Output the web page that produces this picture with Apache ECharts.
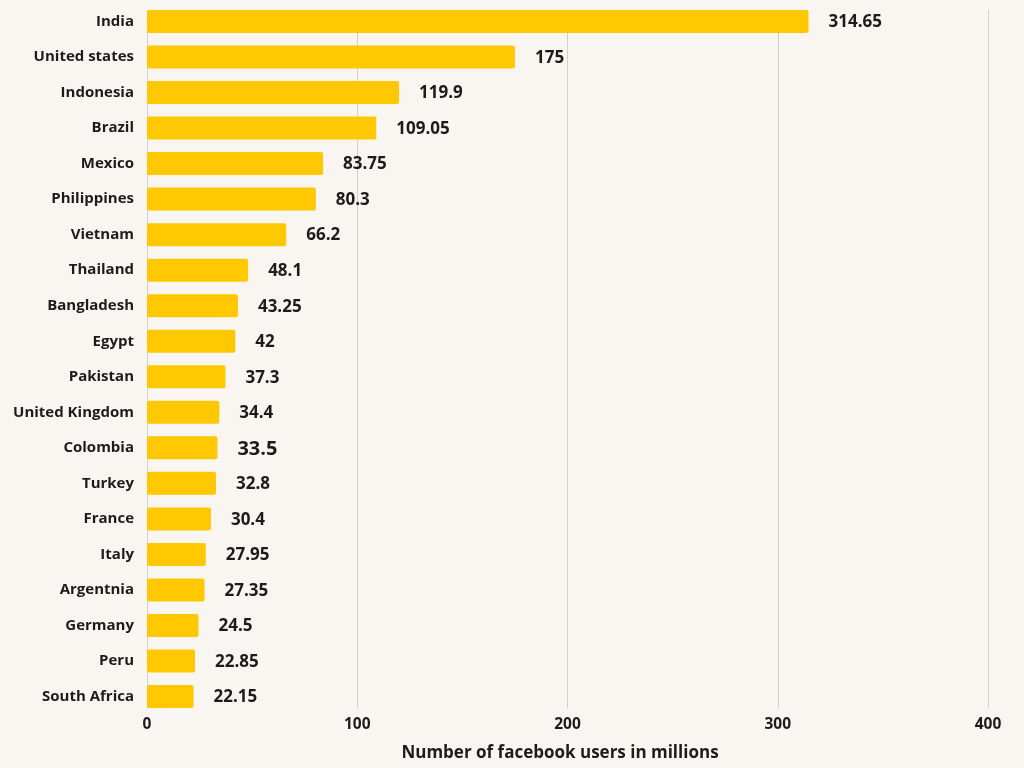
<!DOCTYPE html>
<html><head><meta charset="utf-8">
<script src="https://cdn.jsdelivr.net/npm/echarts@6/dist/echarts.min.js"></script>
<style>html,body{margin:0;padding:0;background:#f9f6f1;}#c{width:1024px;height:768px;}</style>
</head><body><div id="c"></div>
<script>
const categories = ["India","United states","Indonesia","Brazil","Mexico","Philippines","Vietnam","Thailand","Bangladesh","Egypt","Pakistan","United Kingdom","Colombia","Turkey","France","Italy","Argentnia","Germany","Peru","South Africa"];
const values = [314.65,175,119.9,109.05,83.75,80.3,66.2,48.1,43.25,42,37.3,34.4,33.5,32.8,30.4,27.95,27.35,24.5,22.85,22.15];
const xTicks = [0,100,200,300,400];
const axisTitle = "Number of facebook users in millions";

const FONT = "'Open Sans', Lato, sans-serif";
const TXT = "#1c1c1c";
const chart = echarts.init(document.getElementById('c'), null, {renderer:'canvas'});
chart.setOption({
  backgroundColor: '#f9f6f1',
  animation: false,
  grid: [
    {left:147, right:36, top:10, bottom:60, containLabel:false, outerBoundsMode:'none'},
    {left:147, right:36, top:3.7, bottom:53.7, containLabel:false, outerBoundsMode:'none'}
  ],
  xAxis: [
    {gridIndex:0, type:'value', min:xTicks[0], max:xTicks[xTicks.length-1], interval:100,
     axisLine:{show:false}, axisTick:{show:false}, axisLabel:{show:false},
     splitLine:{show:true, lineStyle:{color:'#d3d0cc', width:1}}},
    {gridIndex:1, type:'value', min:xTicks[0], max:xTicks[xTicks.length-1], interval:100,
     axisLine:{show:false}, axisTick:{show:false}, splitLine:{show:false},
     axisLabel:{color:TXT, fontFamily:FONT, fontWeight:'bold', fontSize:15.5, margin:2},
     name:axisTitle, nameLocation:'middle', nameGap:30,
     nameTextStyle:{color:TXT, fontFamily:FONT, fontWeight:'bold', fontSize:17, padding:[0,15,0,0]}}
  ],
  yAxis: [
    {gridIndex:0, type:'category', data:categories, inverse:true, show:false},
    {gridIndex:1, type:'category', data:categories, inverse:true,
     axisLine:{show:false}, axisTick:{show:false}, splitLine:{show:false},
     axisLabel:{color:TXT, fontFamily:FONT, fontWeight:'bold', fontSize:15, margin:13}}
  ],
  series: [{
    type:'bar', xAxisIndex:1, yAxisIndex:1,
    data: values.map((v,i)=> categories[i]==='Colombia'
      ? {value:v, label:{fontSize:20}} : v),
    barWidth:23,
    itemStyle:{color:'#ffc800', borderRadius:2},
    label:{show:true, position:'right', distance:20, offset:[0,1], color:TXT, fontFamily:FONT, fontWeight:'bold', fontSize:17}
  }]
});
</script></body></html>
